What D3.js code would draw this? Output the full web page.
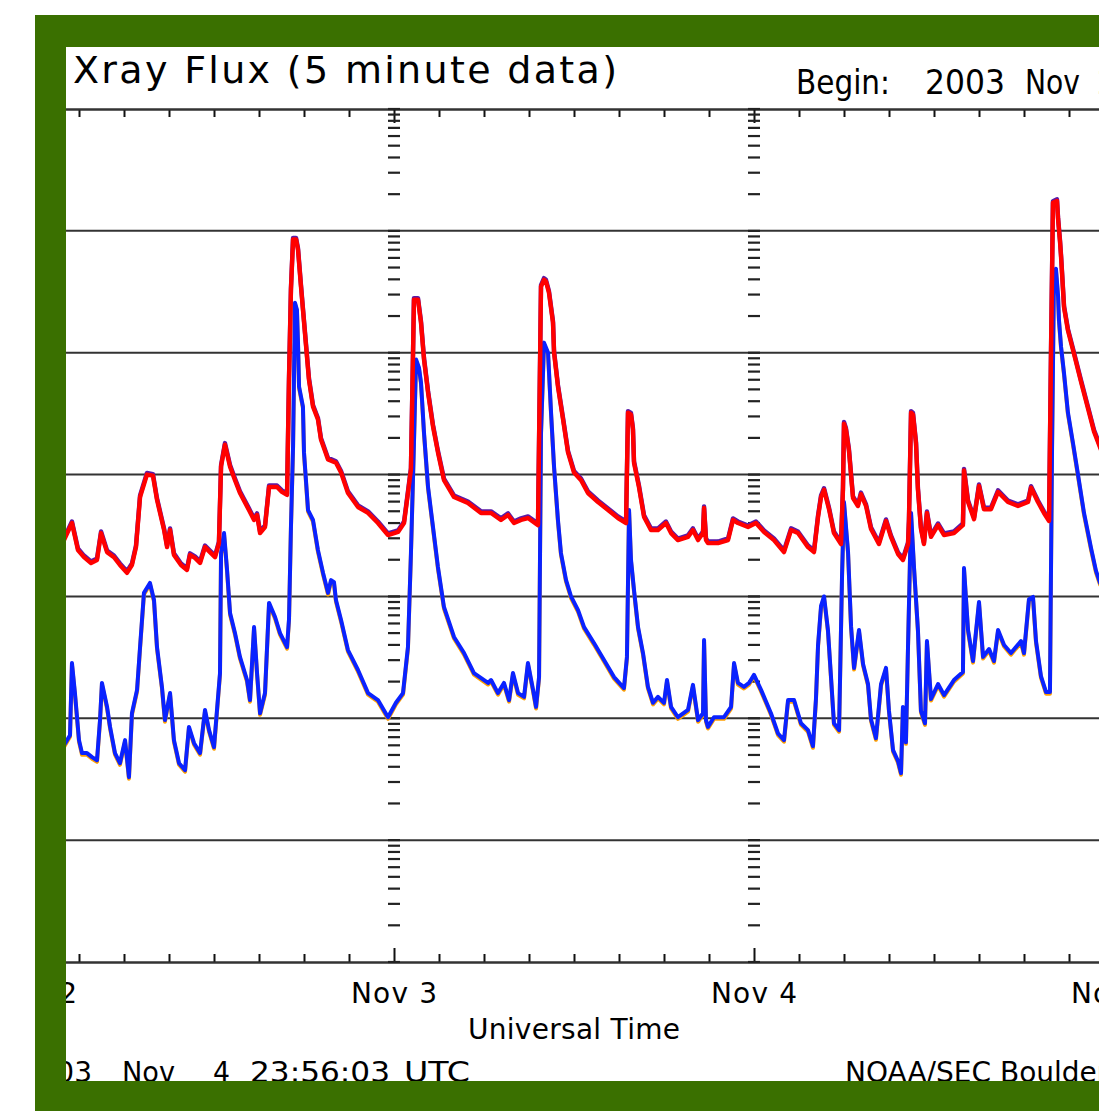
<!DOCTYPE html>
<html><head><meta charset="utf-8">
<script src="https://cdn.jsdelivr.net/npm/d3@7"></script>
<style>html,body{margin:0;padding:0;background:#fff;overflow:hidden}</style>
</head><body>
<svg id="chart" width="1099" height="1111"></svg>
<script>
// ---- data (hours after 2003 Nov 2 00:00 UTC, flux W/m^2) ----
const startMs = Date.UTC(2003, 10, 2);
const daysShown = 3;
const yDomain = [1e-9, 1e-2];
const titleText = "Xray Flux (5 minute data)";
const beginParts = ["Begin:", "2003", "Nov", "2"];
const axisTitle = "Universal Time";
const footerLeft = ["Updated 2003", "Nov", "4", "23:56:03", "UTC"];
const footerRight = "NOAA/SEC Boulder, CO USA";

// 1.0 - 8.0 A (long channel)
const fluxLong = [[2.0,2.9e-6],[2.53,4.0e-6],[2.93,2.4e-6],[3.33,2.1e-6],[3.8,1.88e-6],[4.2,1.99e-6],[4.47,3.31e-6],[4.87,2.31e-6],[5.33,2.1e-6],[5.73,1.81e-6],[6.2,1.56e-6],[6.53,1.81e-6],[6.8,2.54e-6],[7.07,6.54e-6],[7.53,1.0e-5],[7.93,9.8e-6],[8.2,6.2e-6],[8.67,3.51e-6],[8.87,2.54e-6],[9.07,3.51e-6],[9.33,2.19e-6],[9.8,1.81e-6],[10.2,1.65e-6],[10.4,2.19e-6],[10.73,2.07e-6],[11.07,1.88e-6],[11.4,2.54e-6],[11.73,2.31e-6],[12.07,2.1e-6],[12.33,2.74e-6],[12.47,1.16e-5],[12.73,1.76e-5],[13.07,1.16e-5],[13.4,9.0e-6],[13.73,7.06e-6],[14.33,5.12e-6],[14.67,4.24e-6],[14.87,4.66e-6],[15.07,3.31e-6],[15.4,3.71e-6],[15.67,7.9e-6],[16.2,7.9e-6],[16.53,7.2e-6],[16.87,6.8e-6],[17.0,6.0e-5],[17.13,3.29e-4],[17.27,8.5e-4],[17.47,8.5e-4],[17.6,7.0e-4],[17.8,3.48e-4],[17.93,2.25e-4],[18.13,1.16e-4],[18.33,6.0e-5],[18.6,3.61e-5],[18.93,2.83e-5],[19.13,1.94e-5],[19.6,1.33e-5],[20.13,1.25e-5],[20.47,1.04e-5],[20.93,7.06e-6],[21.6,5.42e-6],[22.27,4.84e-6],[22.93,4.0e-6],[23.6,3.19e-6],[24.27,3.38e-6],[24.67,4.0e-6],[24.93,7.06e-6],[25.13,1.1e-5],[25.27,1.0e-4],[25.33,2.72e-4],[25.6,2.72e-4],[25.8,1.76e-4],[26.0,8.8e-5],[26.27,4.71e-5],[26.6,2.48e-5],[26.93,1.52e-5],[27.33,9.0e-6],[28.0,6.54e-6],[28.93,5.84e-6],[29.8,4.84e-6],[30.47,4.84e-6],[31.13,4.24e-6],[31.6,4.66e-6],[32.0,4.0e-6],[32.47,4.24e-6],[32.93,4.4e-6],[33.6,3.85e-6],[33.8,3.48e-4],[34.0,3.97e-4],[34.13,3.85e-4],[34.33,3.11e-4],[34.6,1.76e-4],[34.67,1.0e-4],[34.93,5.27e-5],[35.27,2.83e-5],[35.6,1.52e-5],[36.0,1.04e-5],[36.47,9.0e-6],[36.93,7.06e-6],[37.6,5.95e-6],[38.27,5.12e-6],[38.93,4.4e-6],[39.47,4.0e-6],[39.6,3.22e-5],[39.8,3.11e-5],[39.93,2.34e-5],[40.0,1.25e-5],[40.33,7.9e-6],[40.67,4.49e-6],[41.13,3.51e-6],[41.6,3.51e-6],[42.13,4.0e-6],[42.47,3.31e-6],[42.93,2.9e-6],[43.6,3.08e-6],[43.93,3.51e-6],[44.27,2.9e-6],[44.6,3.31e-6],[44.67,5.32e-6],[44.8,2.9e-6],[44.93,2.74e-6],[45.6,2.74e-6],[46.27,2.9e-6],[46.6,4.24e-6],[46.93,4.0e-6],[47.6,3.71e-6],[48.13,4.0e-6],[48.67,3.38e-6],[49.33,2.9e-6],[50.0,2.31e-6],[50.47,3.51e-6],[50.93,3.31e-6],[51.6,2.54e-6],[52.0,2.31e-6],[52.27,4.49e-6],[52.47,6.54e-6],[52.67,7.5e-6],[53.0,5.2e-6],[53.33,3.31e-6],[53.8,2.69e-6],[53.93,7.5e-6],[54.0,2.62e-5],[54.13,2.34e-5],[54.33,1.57e-5],[54.6,6.42e-6],[54.93,5.52e-6],[55.13,6.9e-6],[55.47,5.52e-6],[55.8,3.58e-6],[56.33,2.69e-6],[56.8,4.16e-6],[57.13,3.08e-6],[57.6,2.23e-6],[57.93,1.99e-6],[58.27,2.69e-6],[58.33,4.16e-6],[58.47,3.22e-5],[58.6,3.11e-5],[58.8,1.8e-5],[58.93,7.5e-6],[59.13,3.58e-6],[59.33,2.69e-6],[59.53,4.84e-6],[59.8,3.08e-6],[60.27,3.85e-6],[60.67,3.19e-6],[61.33,3.31e-6],[61.93,3.85e-6],[62.0,1.08e-5],[62.27,5.95e-6],[62.67,4.3e-6],[63.0,8.06e-6],[63.33,5.2e-6],[63.8,5.2e-6],[64.27,7.2e-6],[64.93,5.95e-6],[65.6,5.52e-6],[66.27,5.95e-6],[66.47,7.8e-6],[66.93,5.95e-6],[67.33,4.84e-6],[67.67,4.16e-6],[67.8,9.8e-5],[67.93,1.7e-3],[68.2,1.76e-3],[68.27,1.25e-3],[68.4,8.15e-4],[68.47,6.13e-4],[68.67,2.34e-4],[68.93,1.52e-4],[69.33,9.8e-5],[69.8,5.78e-5],[70.27,3.48e-5],[70.67,2.25e-5],[71.13,1.6e-5],[71.9,1.05e-5]];

// 0.5 - 4.0 A (short channel)
const fluxShort = [[2.0,6.0e-8],[2.4,7.27e-8],[2.53,2.84e-7],[2.73,1.61e-7],[3.0,6.62e-8],[3.2,5.18e-8],[3.53,5.18e-8],[3.87,4.8e-8],[4.2,4.53e-8],[4.4,9.66e-8],[4.53,1.95e-7],[4.87,1.24e-7],[5.07,8.5e-8],[5.4,5.18e-8],[5.73,4.28e-8],[6.07,6.62e-8],[6.33,3.29e-8],[6.53,1.1e-7],[6.87,1.71e-7],[7.07,3.84e-7],[7.33,1.07e-6],[7.73,1.29e-6],[8.0,9.35e-7],[8.2,3.84e-7],[8.53,1.81e-7],[8.73,9.66e-8],[9.07,1.61e-7],[9.33,6.62e-8],[9.67,4.28e-8],[10.07,3.75e-8],[10.33,8.5e-8],[10.67,6.25e-8],[11.07,5.18e-8],[11.4,1.17e-7],[11.67,8.0e-8],[12.0,5.8e-8],[12.2,1.17e-7],[12.4,2.35e-7],[12.47,2.27e-6],[12.67,3.31e-6],[12.87,1.65e-6],[13.07,7.3e-7],[13.4,5.0e-7],[13.73,3.19e-7],[14.2,2.06e-7],[14.4,1.41e-7],[14.67,5.6e-7],[14.87,2.35e-7],[15.07,1.1e-7],[15.4,1.61e-7],[15.67,8.85e-7],[16.07,6.78e-7],[16.4,5.0e-7],[16.87,3.84e-7],[17.0,6.5e-7],[17.13,3.71e-6],[17.27,1.7e-5],[17.4,2.57e-4],[17.53,2.25e-4],[17.6,1.21e-4],[17.67,5.27e-5],[17.93,3.61e-5],[18.0,1.52e-5],[18.27,5.11e-6],[18.6,4.24e-6],[18.93,2.4e-6],[19.27,1.56e-6],[19.6,1.07e-6],[19.8,1.36e-6],[20.0,1.31e-6],[20.13,9.35e-7],[20.47,6.4e-7],[20.93,3.63e-7],[21.6,2.49e-7],[22.27,1.61e-7],[22.93,1.41e-7],[23.6,1.02e-7],[23.8,1.13e-7],[24.13,1.34e-7],[24.6,1.61e-7],[24.93,3.84e-7],[25.13,2.27e-6],[25.33,1.83e-5],[25.47,8.8e-5],[25.67,7.5e-5],[25.8,5.7e-5],[26.0,2.21e-5],[26.27,7.9e-6],[26.6,3.71e-6],[26.93,1.74e-6],[27.33,8.2e-7],[28.0,4.65e-7],[28.67,3.43e-7],[29.33,2.35e-7],[30.27,1.95e-7],[30.47,2.06e-7],[30.93,1.61e-7],[31.33,1.95e-7],[31.67,1.41e-7],[31.93,2.35e-7],[32.27,1.61e-7],[32.67,1.5e-7],[32.93,2.84e-7],[33.27,1.71e-7],[33.47,1.24e-7],[33.67,2.18e-7],[33.8,2.21e-5],[34.0,1.21e-4],[34.27,1.0e-4],[34.47,3.22e-5],[34.67,1.16e-5],[34.93,4.24e-6],[35.13,2.27e-6],[35.47,1.36e-6],[35.8,1.0e-6],[36.27,7.7e-7],[36.67,5.6e-7],[37.33,4.15e-7],[38.0,3.01e-7],[38.67,2.18e-7],[39.33,1.77e-7],[39.53,3.19e-7],[39.67,5.11e-6],[39.8,2.0e-6],[40.0,1.13e-6],[40.27,5.6e-7],[40.6,3.43e-7],[40.93,1.81e-7],[41.27,1.34e-7],[41.6,1.5e-7],[42.0,1.34e-7],[42.2,2.06e-7],[42.47,1.24e-7],[42.93,1.02e-7],[43.6,1.17e-7],[43.93,1.88e-7],[44.27,9.66e-8],[44.6,1.1e-7],[44.67,4.39e-7],[44.8,9.66e-8],[44.93,8.5e-8],[45.33,1.02e-7],[46.0,1.02e-7],[46.47,1.24e-7],[46.67,2.84e-7],[46.93,1.95e-7],[47.33,1.81e-7],[47.67,1.95e-7],[48.0,2.27e-7],[48.47,1.71e-7],[49.13,1.1e-7],[49.6,7.5e-8],[50.0,6.62e-8],[50.27,1.41e-7],[50.67,1.41e-7],[51.13,9.1e-8],[51.6,8.0e-8],[51.93,5.9e-8],[52.13,1.44e-7],[52.27,4.0e-7],[52.47,8.35e-7],[52.67,1.0e-6],[52.93,5.3e-7],[53.13,2.22e-7],[53.33,9.1e-8],[53.67,8.0e-8],[53.87,1.5e-6],[54.0,5.95e-6],[54.27,2.31e-6],[54.47,5.7e-7],[54.67,2.59e-7],[55.0,5.3e-7],[55.27,2.79e-7],[55.6,1.91e-7],[55.8,9.8e-8],[56.13,6.87e-8],[56.47,1.91e-7],[56.8,2.59e-7],[57.0,1.15e-7],[57.27,5.48e-8],[57.6,4.45e-8],[57.8,3.55e-8],[57.93,1.24e-7],[58.13,6.36e-8],[58.27,4.0e-7],[58.47,4.84e-6],[58.67,1.71e-6],[58.93,5.3e-7],[59.13,1.15e-7],[59.4,9.1e-8],[59.53,4.3e-7],[59.8,1.44e-7],[60.27,1.91e-7],[60.67,1.55e-7],[61.33,2.06e-7],[61.93,2.4e-7],[62.0,1.71e-6],[62.27,5.3e-7],[62.6,2.95e-7],[63.0,9.0e-7],[63.27,3.19e-7],[63.67,3.7e-7],[64.0,2.95e-7],[64.27,5.3e-7],[64.67,4.0e-7],[65.13,3.43e-7],[65.8,4.3e-7],[66.0,3.43e-7],[66.33,9.5e-7],[66.6,9.9e-7],[66.8,4.3e-7],[67.13,2.22e-7],[67.47,1.64e-7],[67.73,1.64e-7],[67.87,1.7e-5],[68.0,4.53e-4],[68.13,4.89e-4],[68.27,2.94e-4],[68.33,1.87e-4],[68.47,1.12e-4],[68.67,6.75e-5],[68.93,3.22e-5],[69.27,1.8e-5],[69.6,1.0e-5],[70.0,4.84e-6],[70.47,2.49e-6],[70.8,1.62e-6],[71.07,1.29e-6],[71.9,9.0e-7]];

// ---- drawing ----
const svg = d3.select("#chart");
const FONT = "'DejaVu Sans', sans-serif";
const GREEN = "#3a7000";
const GRID = "#333";

const toDate = h => new Date(startMs + h * 3600e3);
const x = d3.scaleUtc()
  .domain([new Date(startMs), new Date(startMs + daysShown * 864e5)])
  .range([34, 1114]);
const y = d3.scaleLog().domain(yDomain).range([962, 109]);

svg.append("rect").attr("width", 1099).attr("height", 1111).attr("fill", "#fff");

// clip everything to the white panel inside the frame
svg.append("defs").append("clipPath").attr("id", "panel")
  .append("rect").attr("x", 66).attr("y", 47).attr("width", 1040).attr("height", 1034);
const content = svg.append("g").attr("clip-path", "url(#panel)");
const plot = content.append("g");

// decade grid lines
const decades = d3.range(-8, -2).map(k => Math.pow(10, k));
plot.selectAll("line.grid").data(decades).join("line")
  .attr("x1", x.range()[0]).attr("x2", x.range()[1])
  .attr("y1", d => y(d)).attr("y2", d => y(d))
  .attr("stroke", GRID).attr("stroke-width", 2);

// axes (top and bottom) with 3-hour ticks
const hourTicks = d3.utcHour.every(3).range(x.domain()[0], x.domain()[1]);
const dayTicks = d3.utcDay.range(x.domain()[0], new Date(+x.domain()[1] + 1));
const minorTicks = hourTicks.filter(d => d.getUTCHours() !== 0);

const topAxis = plot.append("g").attr("transform", `translate(0,${y(yDomain[1])})`)
  .call(d3.axisTop(x).tickValues(minorTicks).tickSizeInner(-8).tickSizeOuter(0).tickFormat(""));
const topMajor = plot.append("g").attr("transform", `translate(0,${y(yDomain[1])})`)
  .call(d3.axisTop(x).tickValues(dayTicks).tickSizeInner(-14).tickSizeOuter(0).tickFormat(""));
const botAxis = plot.append("g").attr("transform", `translate(0,${y(yDomain[0])})`)
  .call(d3.axisBottom(x).tickValues(minorTicks).tickSizeInner(-8).tickSizeOuter(0).tickFormat(""));
const botMajor = plot.append("g").attr("transform", `translate(0,${y(yDomain[0])})`)
  .call(d3.axisBottom(x).tickValues(dayTicks).tickSizeInner(-14).tickSizeOuter(0).tickFormat(""));
[topAxis, topMajor, botAxis, botMajor].forEach(g => {
  g.selectAll("path.domain").attr("stroke", GRID).attr("stroke-width", 2);
  g.selectAll(".tick line").attr("stroke", "#111").attr("stroke-width", 2);
});

// log minor dashes along day boundaries
const minorVals = [];
for (let k = -9; k < -2; k++) for (let m = 1; m <= 9; m++) minorVals.push(m * Math.pow(10, k));
minorVals.push(1e-2);
dayTicks.forEach(dt => {
  const cx = x(dt);
  plot.append("g").selectAll("line").data(minorVals).join("line")
    .attr("x1", cx - 6).attr("x2", cx + 6)
    .attr("y1", d => y(d)).attr("y2", d => y(d))
    .attr("stroke", "#222").attr("stroke-width", 2.2);
});

// series
const line = d3.line().x(d => x(toDate(d[0]))).y(d => y(d[1]));
const series = plot.append("g").attr("fill", "none").attr("stroke-linejoin", "round");
series.append("path").attr("d", line(fluxShort)).attr("stroke", "#ffa000")
  .attr("stroke-width", 4).attr("transform", "translate(0,1.6)");
series.append("path").attr("d", line(fluxShort)).attr("stroke", "#0a22ff").attr("stroke-width", 4);
series.append("path").attr("d", line(fluxLong)).attr("stroke", "#5a1aa8")
  .attr("stroke-width", 4.4).attr("transform", "translate(0,-1.6)");
series.append("path").attr("d", line(fluxLong)).attr("stroke", "#ff0000").attr("stroke-width", 4.4);

// texts
content.append("text").attr("x", 73).attr("y", 83).attr("font-family", FONT).attr("font-size", 38)
  .attr("textLength", 544).attr("lengthAdjust", "spacing").text(titleText);
const beginX = [796, 925, 1025, 1097], beginW = [94, 80, 55, 20];
beginParts.forEach((t, i) => {
  content.append("text").attr("x", beginX[i]).attr("y", 94).attr("font-family", FONT).attr("font-size", 33)
    .attr("textLength", beginW[i]).attr("lengthAdjust", "spacingAndGlyphs").text(t);
});

const fmt = d3.utcFormat("%b %-d");
content.append("g").selectAll("text").data(dayTicks).join("text")
  .attr("x", d => x(d)).attr("y", 1003).attr("text-anchor", "middle")
  .attr("font-family", FONT).attr("font-size", 28)
  .attr("textLength", 86).attr("lengthAdjust", "spacing")
  .text(d => fmt(d));
content.append("text").attr("x", (x.range()[0] + x.range()[1]) / 2).attr("y", 1039)
  .attr("text-anchor", "middle").attr("font-family", FONT).attr("font-size", 28)
  .attr("textLength", 212).attr("lengthAdjust", "spacing")
  .text(axisTitle);

const footX = [92, 122, 213, 250, 404], footW = [null, 53, 17, 140, 66];
const footAnchor = ["end", "start", "start", "start", "start"];
footerLeft.forEach((t, i) => {
  const tx = content.append("text").attr("x", footX[i]).attr("y", 1082).attr("text-anchor", footAnchor[i])
    .attr("font-family", FONT).attr("font-size", 28).text(t);
  if (footW[i]) tx.attr("textLength", footW[i]).attr("lengthAdjust", "spacingAndGlyphs");
});
content.append("text").attr("x", 845).attr("y", 1082).attr("font-family", FONT).attr("font-size", 28)
  .text(footerRight);

// green frame (drawn on top)
const frame = svg.append("g").attr("fill", GREEN);
frame.append("rect").attr("x", 35).attr("y", 15).attr("width", 31).attr("height", 1096);
frame.append("rect").attr("x", 35).attr("y", 15).attr("width", 1064).attr("height", 32);
frame.append("rect").attr("x", 35).attr("y", 1081).attr("width", 1064).attr("height", 30);
</script>
</body></html>
